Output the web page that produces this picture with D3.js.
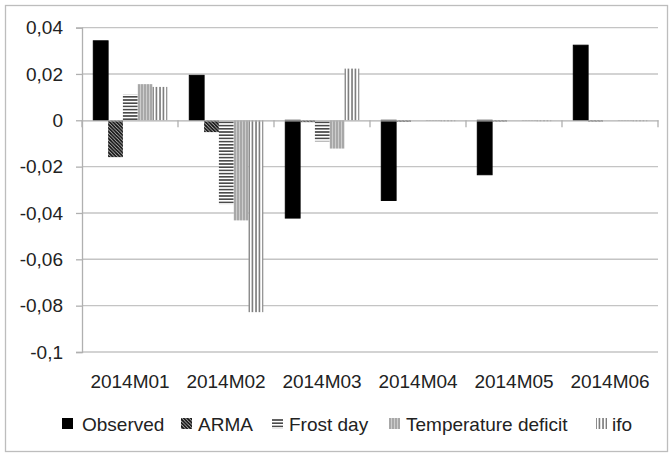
<!DOCTYPE html>
<html><head><meta charset="utf-8">
<script src="https://cdn.jsdelivr.net/npm/d3@7"></script>
<style>
html,body{margin:0;padding:0;background:#fff;}
svg{display:block;font-family:"Liberation Sans",Arial,sans-serif;}
</style></head>
<body>
<svg id="chart" width="671" height="454"></svg>
<script>
const categories = ["2014M01","2014M02","2014M03","2014M04","2014M05","2014M06"];
const seriesNames = ["Observed","ARMA","Frost day","Temperature deficit","ifo"];
const observed    = [0.0343, 0.0194, -0.0422, -0.0346, -0.0235, 0.0324];
const arma        = [-0.0159, -0.0051, -0.0008, -0.0006, -0.0005, -0.0005];
const frostDay    = [0.0111, -0.0363, -0.0091, -0.0001, -0.0001, -0.0001];
const tempDeficit = [0.0156, -0.0432, -0.0122, -0.0003, -0.0002, -0.0002];
const ifo         = [0.0144, -0.0828, 0.0223, -0.0004, -0.0004, -0.0004];
const yTicks = [0.04, 0.02, 0, -0.02, -0.04, -0.06, -0.08, -0.1];

const seriesValues = [observed, arma, frostDay, tempDeficit, ifo];
const svg = d3.select("#chart");
const defs = svg.append("defs");

// patterns
const pArma = defs.append("pattern").attr("id","pArma").attr("patternUnits","userSpaceOnUse")
  .attr("width",3.5).attr("height",3.5);
pArma.append("rect").attr("width",3.5).attr("height",3.5).attr("fill","#fff");
pArma.append("path").attr("d","M-1,-1 L4.5,4.5 M-1,2.5 L1,4.5 M2.5,-1 L4.5,1").attr("stroke","#111").attr("stroke-width",1.9);

const pFrost = defs.append("pattern").attr("id","pFrost").attr("patternUnits","userSpaceOnUse")
  .attr("width",4).attr("height",3.2);
pFrost.append("rect").attr("width",4).attr("height",3.2).attr("fill","#fff");
pFrost.append("rect").attr("y",0).attr("width",4).attr("height",1.6).attr("fill","#4a4a4a");

const pTemp = defs.append("pattern").attr("id","pTemp").attr("patternUnits","userSpaceOnUse")
  .attr("width",3).attr("height",4);
pTemp.append("rect").attr("width",3).attr("height",4).attr("fill","#a8a8a8");
pTemp.append("rect").attr("x",1).attr("width",1).attr("height",4).attr("fill","#cdcdcd");

const pIfo = defs.append("pattern").attr("id","pIfo").attr("patternUnits","userSpaceOnUse")
  .attr("width",3.5).attr("height",4);
pIfo.append("rect").attr("width",3.5).attr("height",4).attr("fill","#fff");
pIfo.append("rect").attr("x",0.3).attr("width",1.4).attr("height",4).attr("fill","#666");

const fills = ["#000","url(#pArma)","url(#pFrost)","url(#pTemp)","url(#pIfo)"];

// outer border
svg.append("rect").attr("x",5.5).attr("y",5.5).attr("width",662).attr("height",446)
  .attr("fill","none").attr("stroke","#bdbdbd").attr("stroke-width",1.3);

const plotL = 82, plotR = 658;
const y = d3.scaleLinear().domain([-0.1,0.04]).range([352,27.6]);
const x0 = d3.scaleBand().domain(categories).range([plotL,plotR]).paddingInner(0).paddingOuter(0);
const x1 = d3.scaleBand().domain(seriesNames).range([11.3, x0.bandwidth()-10.7]).padding(0);

const fmt = v => v === 0 ? "0" : d3.format(".2~f")(v).replace(".", ",").replace("−","-");

// gridlines
svg.append("g").selectAll("line").data(yTicks.filter(t => t !== 0)).join("line")
  .attr("x1",plotL).attr("x2",plotR).attr("y1",d=>y(d)).attr("y2",d=>y(d))
  .attr("stroke","#c4c4c4").attr("stroke-width",1.4);

// y axis
const yAxis = d3.axisLeft(y).tickValues(yTicks).tickSize(6).tickFormat(fmt);
const gy = svg.append("g").attr("transform",`translate(${plotL},0)`).call(yAxis);
gy.select(".domain").attr("stroke","#b0b0b0").attr("stroke-width",1.3);
gy.selectAll(".tick line").attr("stroke","#b0b0b0").attr("stroke-width",1.3);
gy.selectAll(".tick text").attr("x",-19).attr("font-size",19).attr("fill","#222")
  .attr("font-family","\"Liberation Sans\",Arial,sans-serif");

// bars
const groups = svg.append("g").selectAll("g").data(categories).join("g")
  .attr("transform", d => `translate(${x0(d)},0)`);
groups.selectAll("rect").data((c,i) => seriesNames.map((s,j) => ({s, j, v: seriesValues[j][i]})))
  .join("rect")
  .attr("x", d => x1(d.s))
  .attr("width", x1.bandwidth())
  .attr("y", d => y(Math.max(0,d.v)))
  .attr("height", d => Math.max(0.6, Math.abs(y(d.v) - y(0))))
  .attr("fill", d => fills[d.j])
  .attr("stroke", d => d.j === 0 ? "#000" : "none");

// x axis at zero
const xAxis = d3.axisBottom(x0).tickSize(0).tickFormat(() => "");
const gx = svg.append("g").attr("transform",`translate(0,${y(0)})`).call(xAxis);
gx.select(".domain").attr("stroke","#b0b0b0").attr("stroke-width",1.3);
svg.append("g").selectAll("line").data(d3.range(categories.length+1)).join("line")
  .attr("x1", i => plotL + i*x0.bandwidth()).attr("x2", i => plotL + i*x0.bandwidth())
  .attr("y1", y(0)).attr("y2", y(0)+7).attr("stroke","#b0b0b0").attr("stroke-width",1.3);

// category labels at bottom
svg.append("g").selectAll("text").data(categories).join("text")
  .attr("x", d => x0(d) + x0.bandwidth()/2).attr("y", 381).attr("dy","0.35em")
  .attr("text-anchor","middle").attr("font-size",19).attr("fill","#222").text(d => d);

// legend
const legX = [[62,82],[181,198],[272,289],[389,406],[596,612]];
const leg = svg.append("g").selectAll("g").data(seriesNames).join("g");
leg.append("rect").attr("x",(d,i)=>legX[i][0]).attr("y",418).attr("width",11).attr("height",11)
  .attr("fill",(d,i)=>fills[i]);
leg.append("text").attr("x",(d,i)=>legX[i][1]).attr("y",424).attr("dy","0.35em")
  .attr("font-size",19).attr("fill","#222").text(d=>d);
</script>
</body></html>
